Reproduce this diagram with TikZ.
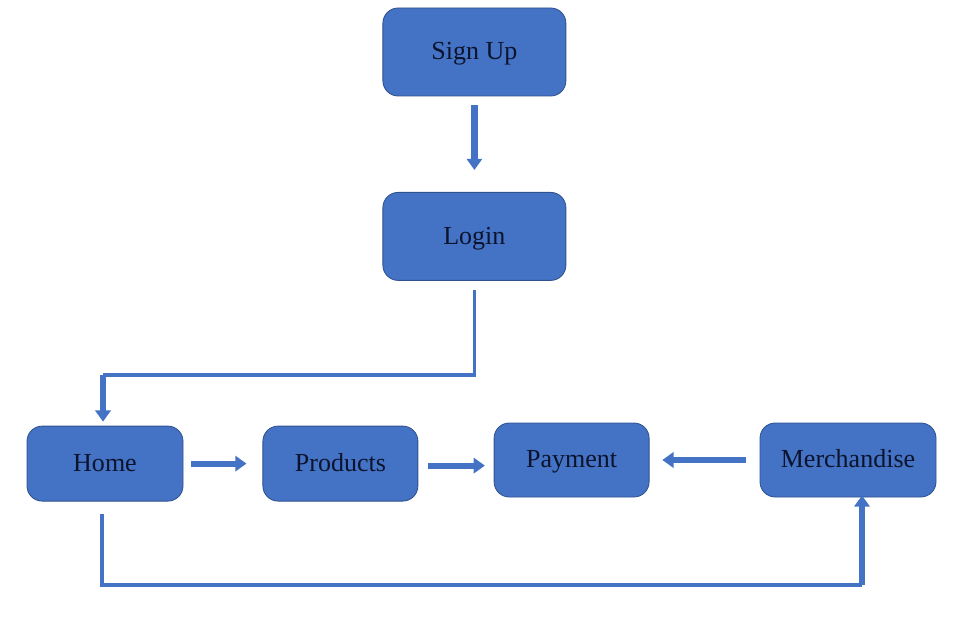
\documentclass[tikz,border=0pt]{standalone}
\usepackage{fontspec}
\setmainfont{Liberation Serif}
\usetikzlibrary{arrows.meta}
\definecolor{boxblue}{RGB}{68,114,196}
\definecolor{boxedge}{RGB}{47,82,143}
\definecolor{boxtext}{RGB}{12,20,45}
\tikzset{
  pagebox/.style={draw=boxedge, line width=0.6pt, fill=boxblue, rounded corners=0.38cm,
    text=boxtext, font=\fontsize{18.5}{22}\selectfont, inner sep=0pt,
    text height=1.1em, text depth=0pt},
  thinline/.style={draw=boxblue, line width=2.2pt},
  thickarrow/.style={draw=boxblue, line width=4.4pt, -{Triangle[length=0.28cm, width=0.38cm]}}
}
\begin{document}
\begin{tikzpicture}
         \useasboundingbox (0,0) rectangle (24.2,15.7);
         % boxes
         \node[pagebox, minimum width=4.575cm, minimum height=2.2cm] (signup) at (11.86,14.4) {Sign Up};
         \node[pagebox, minimum width=4.575cm, minimum height=2.2cm] (login) at (11.86,9.79) {Login};
         \node[pagebox, minimum width=3.9cm, minimum height=1.875cm] (home) at (2.625,4.11) {Home};
         \node[pagebox, minimum width=3.875cm, minimum height=1.875cm] (products) at (8.51,4.11) {Products};
         \node[pagebox, minimum width=3.875cm, minimum height=1.85cm] (payment) at (14.29,4.2) {Payment};
         \node[pagebox, minimum width=4.4cm, minimum height=1.85cm] (merch) at (21.2,4.2) {Merchandise};
         % corners of the long connectors
         \coordinate (upbend) at (2.575,6.325);
         \coordinate (downleft) at (2.55,1.075);
         \coordinate (downright) at (21.55,1.075);
         % arrows
         \draw[thickarrow, shorten <=0.225cm, shorten >=0.55cm] (signup.south) -- (login.north);
         \draw[thinline, shorten <=0.225cm] (login.south) |- (upbend);
         \draw[thickarrow, shorten >=0.1cm] (upbend) -- (upbend |- home.north);
         \draw[thickarrow, shorten <=0.2cm, shorten >=0.4cm] (home.east) -- (products.west);
         \draw[thickarrow, shorten <=0.25cm, shorten >=0.22cm] (products.east |- 0,4.06) -- (payment.west |- 0,4.06);
         \draw[thickarrow, shorten <=0.35cm, shorten >=0.32cm] (merch.west) -- (payment.east);
         \draw[thinline, shorten <=0.3cm] (downleft |- home.south) -- (downleft) -- (downright);
         \draw[thickarrow, shorten >=-0.05cm] (downright) -- (downright |- merch.south);
        \end{tikzpicture}
\end{document}
